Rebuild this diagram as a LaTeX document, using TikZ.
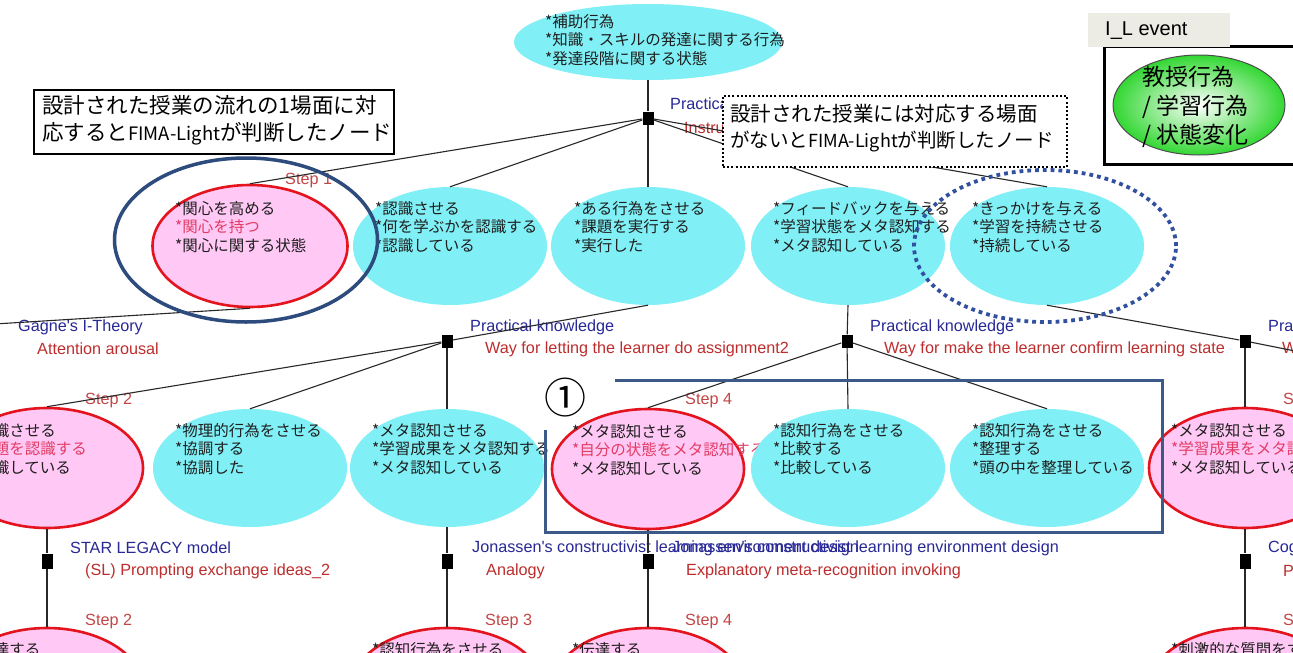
\documentclass[tikz,border=0pt]{standalone}
\usepackage{fontspec}
\setmainfont{Liberation Sans}
\newfontfamily\jp{Noto Sans CJK JP}
\newfontfamily\lat{Liberation Sans}
\usetikzlibrary{shapes.geometric,calc}
\definecolor{cyanC}{RGB}{128,240,246}
\definecolor{pinkC}{RGB}{255,200,245}
\definecolor{redB}{RGB}{228,20,30}
\definecolor{redT}{RGB}{226,60,100}
\definecolor{txtC}{RGB}{30,30,30}
\definecolor{blueL}{RGB}{40,40,150}
\definecolor{redL}{RGB}{190,45,45}
\definecolor{stepC}{RGB}{195,70,70}
\definecolor{navyC}{RGB}{45,75,125}
\definecolor{dotC}{RGB}{50,80,160}
\definecolor{rectC}{RGB}{60,90,135}
\definecolor{lineC}{RGB}{40,40,40}
\definecolor{greenC}{RGB}{50,215,50}
\definecolor{tabC}{RGB}{236,236,228}
\tikzset{
  cyannode/.style={ellipse, fill=cyanC, draw=none, minimum width=194pt, minimum height=118pt, inner sep=0pt},
  pinknode/.style={ellipse, fill=pinkC, draw=redB, line width=2.6pt, minimum width=192pt, minimum height=120pt, inner sep=0pt},
  jtext/.style={font=\jp\fontsize{15.5}{18.5}\selectfont, align=left, anchor=north west, inner sep=0pt, text=txtC},
  junction/.style={rectangle, fill=black, minimum width=11pt, minimum height=13pt, inner sep=0pt},
  conn/.style={draw=lineC, line width=1.1pt},
  lbl/.style={font=\lat\fontsize{16.2}{18}\selectfont, anchor=west, inner sep=0pt},
  bluelbl/.style={lbl, text=blueL},
  redlbl/.style={lbl, text=redL},
  steplbl/.style={lbl, text=stepC},
  calltext/.style={anchor=north west, align=left, inner sep=0pt, text=black},
}
\newcommand{\rt}[1]{{\color{redT}#1}}
\begin{document}
\begin{tikzpicture}[x=1pt,y=-1pt]
\useasboundingbox (0,0) rectangle (1293,653);
\clip (0,0) rectangle (1293,653);
\fill[white] (0,0) rectangle (1293,653);

% ---------- top node ----------
\node[cyannode, minimum width=268pt, minimum height=76pt] (top) at (648,42) {};
\node[jtext] (topt) at (545,14) {*補助行為\\*知識・スキルの発達に関する行為\\*発達段階に関する状態};
\node[junction] (j0) at (648,118) {};
\node[bluelbl] (j0b) at (670,105) {Practical knowledge};
\node[redlbl] (j0r) at (684,128) {Instruction};

% ---------- row 1 ----------
\node[pinknode, minimum width=195pt, minimum height=122pt] (n11) at (250,246) {};
\node[jtext] (t11) at ($(n11.center)+(-75,-45)$) {*関心を高める\\\rt{*関心を持つ}\\*関心に関する状態};
\node[cyannode] (n12) at (450,246) {};
\node[jtext] (t12) at ($(n12.center)+(-75,-45)$) {*認識させる\\*何を学ぶかを認識する\\*認識している};
\node[cyannode] (n13) at (648,246) {};
\node[jtext] (t13) at ($(n13.center)+(-74,-45)$) {*ある行為をさせる\\*課題を実行する\\*実行した};
\node[cyannode] (n14) at (848,246) {};
\node[jtext] (t14) at ($(n14.center)+(-75,-45)$) {*フィードバックを与える\\*学習状態をメタ認知する\\*メタ認知している};
\node[cyannode] (n15) at (1047,246) {};
\node[jtext] (t15) at ($(n15.center)+(-75,-45)$) {*きっかけを与える\\*学習を持続させる\\*持続している};
\node[steplbl] (s11) at (285,181) {Step 1};

% ---------- row 2 junctions and labels ----------
\coordinate (gag) at (-30,325.5);
\node[bluelbl] (gb) at (18,327) {Gagne's I-Theory};
\node[redlbl] (gr) at (37,349) {Attention arousal};
\node[junction] (j21) at (447,341) {};
\node[bluelbl] (j21b) at (470,327) {Practical knowledge};
\node[redlbl] (j21r) at (485,349) {Way for letting the learner do assignment2};
\node[junction] (j22) at (847,341) {};
\node[bluelbl] (j22b) at (870,327) {Practical knowledge};
\node[redlbl] (j22r) at (884,349) {Way for make the learner confirm learning state};
\node[junction] (j23) at (1245,341) {};
\node[bluelbl] (j23b) at (1268,327) {Practical knowledge};
\node[redlbl] (j23r) at (1282,349) {Way for};
\coordinate (rr) at (1320,356);

% ---------- row 2 ----------
\node[pinknode] (n21) at (47,468) {};
\node[jtext] (t21) at ($(n21.center)+(-76,-45)$) {*認識させる\\\rt{*課題を認識する}\\*認識している};
\node[cyannode] (n22) at (250,468) {};
\node[jtext] (t22) at ($(n22.center)+(-75,-45)$) {*物理的行為をさせる\\*協調する\\*協調した};
\node[cyannode] (n23) at (447,468) {};
\node[jtext] (t23) at ($(n23.center)+(-75,-45)$) {*メタ認知させる\\*学習成果をメタ認知する\\*メタ認知している};
\node[pinknode] (n24) at (648,469) {};
\node[jtext] (t24) at ($(n24.center)+(-76,-45)$) {*メタ認知させる\\\rt{*自分の状態をメタ認知する}\\*メタ認知している};
\node[cyannode] (n25) at (848,468) {};
\node[jtext] (t25) at ($(n25.center)+(-75,-45)$) {*認知行為をさせる\\*比較する\\*比較している};
\node[cyannode] (n26) at (1047,468) {};
\node[jtext] (t26) at ($(n26.center)+(-75,-45)$) {*認知行為をさせる\\*整理する\\*頭の中を整理している};
\node[pinknode] (n27) at (1245,468) {};
\node[jtext] (t27) at ($(n27.center)+(-74,-45)$) {*メタ認知させる\\\rt{*学習成果をメタ認知する}\\*メタ認知している};
\node[steplbl] (s21) at (85,401) {Step 2};
\node[steplbl] (s24) at (685,401) {Step 4};
\node[steplbl] (s27) at (1283,401) {Step};

% ---------- row 3 junctions and labels ----------
\node[junction, minimum height=15pt] (j31) at (47,561) {};
\node[bluelbl] (j31b) at (70,548) {STAR LEGACY model};
\node[redlbl] (j31r) at (85,571) {(SL) Prompting exchange ideas\_2};
\node[junction, minimum height=15pt] (j32) at (447,561) {};
\node[bluelbl] (j32b) at (472,548) {Jonassen's constructivist learning environment design};
\node[redlbl] (j32r) at (486,571) {Analogy};
\node[junction, minimum height=15pt] (j33) at (648,561) {};
\node[bluelbl] (j33b) at (672,548) {Jonassen's constructivist learning environment design};
\node[redlbl] (j33r) at (686,571) {Explanatory meta-recognition invoking};
\node[junction, minimum height=15pt] (j34) at (1245,561) {};
\node[bluelbl] (j34b) at (1268,548) {Cognitive};
\node[redlbl] (j34r) at (1283,571) {P};
\node[steplbl] (s31) at (85,622) {Step 2};
\node[steplbl] (s33) at (485,622) {Step 3};
\node[steplbl] (s34) at (685,622) {Step 4};
\node[steplbl] (s37) at (1283,622) {Step};

% ---------- row 3 ----------
\node[pinknode] (n31) at (47,688) {};
\node[jtext] (t31) at ($(n31.center)+(-76,-46)$) {*伝達する};
\node[pinknode] (n33) at (447,688) {};
\node[jtext] (t33) at ($(n33.center)+(-75,-46)$) {*認知行為をさせる};
\node[pinknode] (n34) at (648,688) {};
\node[jtext] (t34) at ($(n34.center)+(-76,-46)$) {*伝達する};
\node[pinknode] (n37) at (1245,688) {};
\node[jtext] (t37) at ($(n37.center)+(-74,-46)$) {*刺激的な質問をする};

% ---------- connectors ----------
\path[conn] (top.south) -- (j0);
\path[conn] (j0) -- (n11.north);
\path[conn] (j0) -- (n12.north);
\path[conn] (j0) -- (n13.north);
\path[conn] (j0) -- (n14.north);
\path[conn] (j0) -- (n15.north);
\path[conn] (n11.south) -- (gag);
\path[conn] (n13.south) -- (j21);
\path[conn] (j21) -- (n21.north);
\path[conn] (j21) -- (n22.north);
\path[conn] (j21) -- (n23.north);
\path[conn] (n14.south) -- (j22);
\path[conn] (j22) -- (n24.north);
\path[conn] (j22) -- (n25.north);
\path[conn] (j22) -- (n26.north);
\path[conn] (n15.south) -- (j23);
\path[conn] (j23) -- (n27.north);
\path[conn] (j23) -- (rr);
\path[conn] (n21.south) -- (j31);
\path[conn] (j31) -- (n31.north);
\path[conn] (n23.south) -- (j32);
\path[conn] (j32) -- (n33.north);
\path[conn] (n24.south) -- (j33);
\path[conn] (j33) -- (n34.north);
\path[conn] (n27.south) -- (j34);
\path[conn] (j34) -- (n37.north);

% ---------- annotations ----------
\node[ellipse, draw=navyC, line width=3.5pt, minimum width=263pt, minimum height=164pt, inner sep=0pt] (sel1) at (246,240) {};
\node[ellipse, draw=dotC, line width=3.8pt, dash pattern=on 3.8pt off 4pt, minimum width=262pt, minimum height=152pt, inner sep=0pt] (sel2) at (1045,246) {};

\node[draw=black, line width=2pt, fill=white, anchor=north west, minimum width=360pt, minimum height=64pt, inner sep=0pt] (cb1) at (33,89) {};
\node[calltext, font=\jp\fontsize{21.5}{27}\selectfont] (cb1t) at (42,95)
  {設計された授業の流れの1場面に対\\応すると{\fontsize{18.5}{27}\selectfont FIMA-Light}が判断したノード};

\node[draw=black, line width=2pt, dash pattern=on 2pt off 2.2pt, fill=white, anchor=north west, minimum width=344pt, minimum height=71pt, inner sep=0pt] (cb2) at (722,95) {};
\node[calltext, font=\jp\fontsize{20.5}{26}\selectfont] (cb2t) at (730,104)
  {設計された授業には対応する場面\\{\fontsize{19.5}{26}\selectfont がないと{\fontsize{18}{26}\selectfont FIMA-Light}が判断したノード}};

% ---------- step-4 group frame ----------
\node[font=\jp\fontsize{42}{42}\selectfont, inner sep=0pt] (c1) at (565,398) {①};
\coordinate (fr1) at (615,380);
\coordinate (fr2) at (1162,380);
\coordinate (fr3) at (1162,532);
\coordinate (fr4) at (545,532);
\coordinate (fr5) at (545,430);
\draw[rectC, line width=3pt] (fr1) -- (fr2) -- (fr3) -- (fr4) -- (fr5);

% ---------- I_L event legend ----------
\node[draw=black, line width=2.5pt, anchor=north west, minimum width=215pt, minimum height=118pt, inner sep=0pt] (evbox) at (1103,45) {};
\node[fill=tabC, anchor=north west, minimum width=142pt, minimum height=34pt, inner sep=0pt] (tab) at (1088,13) {};
\node[font=\lat\fontsize{20}{22}\selectfont, anchor=west, inner sep=0pt] (tabt) at (1105,31) {I\_L event};
\node[ellipse, draw=black!70, line width=1pt, inner color=white, outer color=greenC, minimum width=172pt, minimum height=100pt, inner sep=0pt] (ev) at (1199,105) {};
\node[anchor=north west, align=left, font=\jp\fontsize{23}{29}\selectfont, inner sep=0pt] (evt) at (1142,66) {教授行為\\/ 学習行為\\/ 状態変化};
\end{tikzpicture}
\end{document}
